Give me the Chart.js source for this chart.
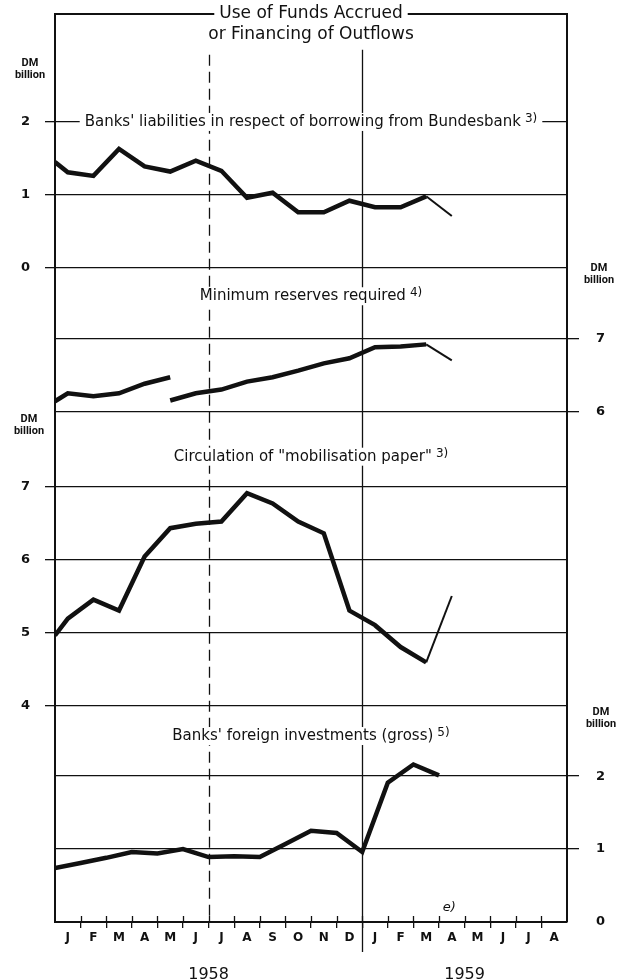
<!DOCTYPE html>
<html>
<head>
<meta charset="utf-8">
<script src="https://cdn.jsdelivr.net/npm/chart.js@4.4.0/dist/chart.umd.min.js"></script>
<style>
  html, body { margin: 0; padding: 0; background: #fff; }
  #wrap { width: 628px; height: 980px; }
</style>
</head>
<body>
<div id="wrap"><canvas id="fundsChart" width="628" height="980"></canvas></div>
<script>
// month axis, Jan 1958 .. Aug 1959
const months = ["J", "F", "M", "A", "M", "J", "J", "A", "S", "O", "N", "D", "J", "F", "M", "A", "M", "J", "J", "A"];
const years = ["1958", "1959"];
const yearCentres = [6, 16];

// first value = level at the left edge (end of 1957), then mid-month values Jan 58 .. Apr 59
const liabilities = [1.45, 1.31, 1.26, 1.63, 1.39, 1.32, 1.47, 1.33, 0.96, 1.03, 0.76, 0.76, 0.92, 0.83, 0.83, 0.98, 0.71];
const reservesOld = [6.14, 6.25, 6.21, 6.25, 6.38, 6.47];
// new basis from May 1958
const reservesNew = [6.15, 6.25, 6.30, 6.41, 6.47, 6.56, 6.66, 6.73, 6.88, 6.89, 6.92, 6.70];
const mobilisation = [4.96, 5.19, 5.45, 5.30, 6.04, 6.43, 6.49, 6.52, 6.91, 6.77, 6.52, 6.36, 5.30, 5.10, 4.80, 4.59, 5.50];
// end-of-month values, Dec 57 .. Mar 59
const foreignInv = [0.74, 0.81, 0.88, 0.96, 0.94, 1.00, 0.89, 0.90, 0.89, 1.07, 1.25, 1.22, 0.96, 1.91, 2.16, 2.01];

const ticks1 = [0, 1, 2];
const ticks2 = [6, 7];
const ticks3 = [4, 5, 6, 7];
const ticks4 = [0, 1, 2];

const ink = "#111";
const clear = "rgba(0,0,0,0)";
const font = "'DejaVu Sans', sans-serif";
const smallFont = "Roboto, sans-serif";

const edgeThenMid = vals => vals.map((v, i) => ({ x: i === 0 ? 0 : i - 0.5, y: v }));
const fromMonth = (vals, start) => vals.map((v, i) => ({ x: start + i, y: v }));

// last stretch of a series is an estimate: thinner line
const thinLast = n => ({ borderWidth: ctx => (ctx.p1DataIndex === n - 1 ? 2 : 4.5) });

function lineSet(data, yAxisID, segment) {
  return {
    data, yAxisID, xAxisID: "x",
    borderColor: ink, borderWidth: 4.5, pointRadius: 0, tension: 0,
    borderJoinStyle: "miter", borderCapStyle: "butt", fill: false,
    segment: segment || {}
  };
}

const fixTicks = list => scale => { scale.ticks = list.map(v => ({ value: v })); };

function yScale(side, min, max, list, weight, showLabels) {
  const left = side === "left";
  return {
    type: "linear", axis: "y", position: side, stack: side, stackWeight: max - min, weight,
    min, max,
    afterBuildTicks: fixTicks(list),
    afterFit: s => { s.width = left ? 55 : 61; s.paddingTop = 0; s.paddingBottom = 0; },
    grid: {
      display: true,
      drawOnChartArea: left,
      drawTicks: showLabels,
      tickLength: left ? 10 : 12,
      color: ink, lineWidth: 1.3, tickWidth: 1.3,
      tickColor: ctx => (!left && ctx.tick && ctx.tick.value === 0 ? clear : ink)
    },
    border: { display: true, color: ink, width: 2 },
    ticks: {
      display: showLabels,
      color: ink, padding: left ? 15 : 17,
      font: { family: font, size: 13, weight: "bold" }
    }
  };
}

function drawCaption(ctx, text, note, cx, cy, size) {
  ctx.font = size + "px " + font;
  const wMain = ctx.measureText(text).width;
  ctx.font = (size - 3) + "px " + font;
  const wNote = note ? ctx.measureText(note).width + 4 : 0;
  const w = wMain + wNote;
  const x0 = cx - w / 2;
  ctx.fillStyle = "#fff";
  ctx.fillRect(x0 - 5, cy - size * 0.6, w + 10, size * 1.2);
  ctx.fillStyle = ink;
  ctx.textBaseline = "middle";
  ctx.textAlign = "left";
  ctx.font = size + "px " + font;
  ctx.fillText(text, x0, cy);
  if (note) {
    ctx.font = (size - 3) + "px " + font;
    ctx.fillText(note, x0 + wMain + 4, cy - 3);
  }
}

function drawUnit(ctx, cx, cy) {
  ctx.fillStyle = ink;
  ctx.textAlign = "center";
  ctx.textBaseline = "middle";
  ctx.font = "bold 11px " + smallFont;
  ctx.fillText("DM", cx, cy - 6);
  ctx.fillText("billion", cx, cy + 6);
}

const decorations = {
  id: "decorations",
  beforeDatasetsDraw(chart) {
    const { ctx, chartArea, scales } = chart;
    const x = scales.x;
    ctx.save();
    ctx.strokeStyle = ink;
    ctx.lineWidth = 1.3;

    // month stubs inside the frame
    ctx.beginPath();
    for (let i = 1; i < months.length; i++) {
      const px = Math.round(x.getPixelForValue(i)) + 0.5;
      ctx.moveTo(px, chartArea.bottom - 6);
      ctx.lineTo(px, chartArea.bottom);
    }
    ctx.stroke();

    // mid-1958 dashed divider
    const xMid = Math.round(x.getPixelForValue(6)) + 0.5;
    ctx.setLineDash([11, 6]);
    ctx.beginPath();
    ctx.moveTo(xMid, scales.L1.getPixelForValue(2.92));
    ctx.lineTo(xMid, chartArea.bottom);
    ctx.stroke();
    ctx.setLineDash([]);

    // year divider
    const xYear = Math.round(x.getPixelForValue(12)) + 0.5;
    ctx.beginPath();
    ctx.moveTo(xYear, scales.L1.getPixelForValue(2.99));
    ctx.lineTo(xYear, x.bottom);
    ctx.stroke();

    const cx = (chartArea.left + chartArea.right) / 2;
    // title on the top border
    drawCaption(ctx, "Use of Funds Accrued", "", cx, chartArea.top, 17);
    ctx.font = "17px " + font;
    ctx.textAlign = "center";
    ctx.fillText("or Financing of Outflows", cx, chartArea.top + 21);

    drawCaption(ctx, "Banks' liabilities in respect of borrowing from Bundesbank", "3)", cx, scales.L1.getPixelForValue(2), 15);
    drawCaption(ctx, "Minimum reserves required", "4)", cx, scales.L2.getPixelForValue(7.58), 15);
    drawCaption(ctx, "Circulation of \"mobilisation paper\"", "3)", cx, scales.L3.getPixelForValue(7.41), 15);
    drawCaption(ctx, "Banks' foreign investments (gross)", "5)", cx, scales.L4.getPixelForValue(2.55), 15);

    drawUnit(ctx, scales.L1.left + 30, scales.L1.getPixelForValue(2.72));
    drawUnit(ctx, scales.L3.left + 29, scales.L3.getPixelForValue(7.84));
    drawUnit(ctx, scales.R2.left + 32, scales.R2.getPixelForValue(7.88));
    drawUnit(ctx, scales.R4.left + 34, scales.R4.getPixelForValue(2.80));

    ctx.font = "italic 13px " + font;
    ctx.textAlign = "center";
    ctx.fillText("e)", x.getPixelForValue(15.4), scales.L4.getPixelForValue(0.2));
    ctx.restore();
  }
};

new Chart(document.getElementById("fundsChart"), {
  type: "line",
  data: {
    datasets: [
      lineSet(edgeThenMid(liabilities), "L1", thinLast(liabilities.length)),
      lineSet(edgeThenMid(reservesOld), "L2"),
      lineSet(fromMonth(reservesNew, 4.5), "L2", thinLast(reservesNew.length)),
      lineSet(edgeThenMid(mobilisation), "L3", thinLast(mobilisation.length)),
      lineSet(fromMonth(foreignInv, 0), "L4")
    ]
  },
  options: {
    responsive: false,
    animation: false,
    layout: { padding: { top: 14, left: 0, right: 0, bottom: 0 } },
    plugins: { legend: { display: false }, tooltip: { enabled: false } },
    scales: {
      x: {
        type: "linear", axis: "x", position: "bottom", weight: 0, min: 0, max: months.length,
        afterBuildTicks: scale => { scale.ticks = months.map((m, i) => ({ value: i + 0.5 })); },
        afterFit: s => { s.height = 30; s.paddingLeft = 0; s.paddingRight = 0; },
        grid: {
          offset: true, drawOnChartArea: false, drawTicks: true, tickLength: 6, color: ink, lineWidth: 1.3,
          tickColor: ctx => (ctx.index === undefined || ctx.index === 0 ? clear : ink)
        },
        border: { display: true, color: ink, width: 2 },
        ticks: {
          autoSkip: false, maxRotation: 0, padding: 3, color: ink,
          font: { family: font, size: 12, weight: "bold" },
          callback: (v, i) => months[i]
        }
      },
      xYear: {
        type: "linear", axis: "x", position: "bottom", weight: 1, min: 0, max: months.length,
        afterBuildTicks: fixTicks(yearCentres),
        afterFit: s => { s.height = 28; s.paddingLeft = 0; s.paddingRight = 0; },
        grid: { display: false, drawTicks: false },
        border: { display: false },
        ticks: {
          autoSkip: false, maxRotation: 0, padding: 13, color: ink,
          font: { family: font, size: 16 },
          callback: (v, i) => years[i]
        }
      },
      xTop: {
        type: "linear", axis: "x", position: "top", min: 0, max: months.length,
        afterBuildTicks: fixTicks([]),
        afterFit: s => { s.height = 0; },
        grid: { display: false, drawTicks: false },
        border: { display: true, color: ink, width: 2 },
        ticks: { display: false }
      },
      L1: yScale("left", 0, 3.48, ticks1, 4, true),
      L2: yScale("left", 6, 7.97, ticks2, 3, false),
      L3: yScale("left", 4, 8.03, ticks3, 2, true),
      L4: yScale("left", 0, 2.97, ticks4, 1, false),
      R1: yScale("right", 0, 3.48, [], 1, false),
      R2: yScale("right", 6, 7.97, ticks2, 2, true),
      R3: yScale("right", 4, 8.03, [], 3, false),
      R4: yScale("right", 0, 2.97, ticks4, 4, true)
    }
  },
  plugins: [decorations]
});
</script>
</body>
</html>
